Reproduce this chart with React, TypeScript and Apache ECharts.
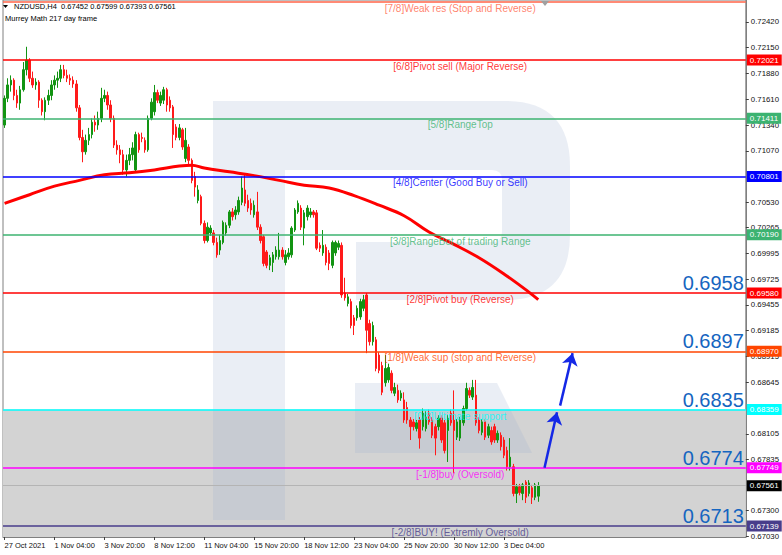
import React, { useEffect, useRef } from 'react';
import * as echarts from 'echarts';

// ---- price scale (NZDUSD H4) ----
const Y_MIN = 0.67024;
const Y_MAX = 0.7265;
const TOTAL_SLOTS = 238; // bars + empty shift area on the right
const BARS_PER_TICK = 16;

const xTickLabels = [
  '27 Oct 2021', '1 Nov 04:00', '3 Nov 20:00', '8 Nov 12:00', '11 Nov 04:00', '15 Nov 20:00',
  '18 Nov 12:00', '23 Nov 04:00', '25 Nov 20:00', '30 Nov 12:00', '3 Dec 04:00',
];

const yTickValues = [
  0.7242, 0.7215, 0.7188, 0.7161, 0.7134, 0.7107, 0.7053, 0.70265, 0.69995, 0.69725,
  0.69455, 0.69185, 0.68915, 0.68645, 0.68105, 0.67835, 0.673, 0.6703,
];

// [open, close, low, high]
const ohlc = [
  [0.7134, 0.7162, 0.7131, 0.7165], [0.7162, 0.7176, 0.7158, 0.7183], [0.7176, 0.7181, 0.7169, 0.7186],
  [0.7181, 0.7165, 0.716, 0.7183], [0.7165, 0.7157, 0.7152, 0.7171], [0.7157, 0.7171, 0.715, 0.7175],
  [0.7171, 0.7192, 0.7169, 0.72], [0.7192, 0.7202, 0.7186, 0.7216], [0.7202, 0.7183, 0.7179, 0.7204],
  [0.7183, 0.7176, 0.7173, 0.719], [0.7176, 0.7179, 0.7171, 0.7183], [0.7179, 0.716, 0.7152, 0.7181],
  [0.716, 0.7148, 0.7144, 0.7162], [0.7148, 0.716, 0.7139, 0.7163], [0.716, 0.7165, 0.7155, 0.7171],
  [0.7165, 0.7176, 0.716, 0.7181], [0.7176, 0.7181, 0.7171, 0.7186], [0.7181, 0.7183, 0.7173, 0.719],
  [0.7183, 0.7192, 0.7179, 0.7197], [0.7192, 0.7186, 0.7183, 0.7197], [0.7186, 0.7183, 0.7179, 0.7192],
  [0.7183, 0.7181, 0.7176, 0.7187], [0.7181, 0.7177, 0.7173, 0.7185], [0.7177, 0.7152, 0.7148, 0.7181],
  [0.7152, 0.7121, 0.7118, 0.7155], [0.7121, 0.7106, 0.7095, 0.7129], [0.7106, 0.7118, 0.7103, 0.7124],
  [0.7118, 0.7124, 0.7113, 0.7131], [0.7124, 0.7137, 0.712, 0.7141], [0.7137, 0.7134, 0.7127, 0.7144],
  [0.7134, 0.7141, 0.7129, 0.7148], [0.7141, 0.7162, 0.7137, 0.7173], [0.7162, 0.7165, 0.7158, 0.7171],
  [0.7165, 0.7155, 0.715, 0.7169], [0.7155, 0.7141, 0.7137, 0.716], [0.7141, 0.7113, 0.711, 0.7144],
  [0.7113, 0.7108, 0.7103, 0.7118], [0.7108, 0.7103, 0.7094, 0.7113], [0.7103, 0.7087, 0.7082, 0.7108],
  [0.7087, 0.7097, 0.708, 0.7103], [0.7097, 0.7103, 0.7092, 0.711], [0.7103, 0.711, 0.7097, 0.7116],
  [0.7087, 0.7124, 0.7084, 0.7127], [0.7124, 0.7108, 0.7105, 0.7126], [0.7121, 0.712, 0.7116, 0.7126],
  [0.7118, 0.7108, 0.7105, 0.7121], [0.7108, 0.7141, 0.7106, 0.7144], [0.7141, 0.7158, 0.7139, 0.7162],
  [0.7148, 0.7168, 0.7144, 0.7176], [0.7168, 0.716, 0.7157, 0.7171], [0.7157, 0.7165, 0.7154, 0.7169],
  [0.716, 0.7171, 0.7156, 0.7174], [0.7171, 0.7155, 0.7148, 0.7173], [0.716, 0.7152, 0.7148, 0.7164],
  [0.7153, 0.7124, 0.711, 0.7155], [0.7132, 0.7121, 0.7118, 0.7135], [0.7121, 0.7131, 0.7118, 0.7135],
  [0.7129, 0.7111, 0.7108, 0.7131], [0.7099, 0.7118, 0.7095, 0.7131], [0.7111, 0.7097, 0.7092, 0.7114],
  [0.7097, 0.7076, 0.7073, 0.7099], [0.708, 0.7069, 0.7059, 0.7085], [0.7055, 0.7066, 0.7052, 0.7071],
  [0.7059, 0.7031, 0.7029, 0.7061], [0.7031, 0.7013, 0.701, 0.7034], [0.7013, 0.7027, 0.7011, 0.7032],
  [0.7021, 0.7026, 0.7018, 0.7029], [0.7021, 0.7011, 0.7008, 0.7024], [0.7011, 0.6998, 0.6995, 0.7016],
  [0.7003, 0.7013, 0.6998, 0.7019], [0.7011, 0.7032, 0.7009, 0.7034], [0.7021, 0.7029, 0.7018, 0.7032],
  [0.7029, 0.7043, 0.7026, 0.7045], [0.7043, 0.7038, 0.7034, 0.7047], [0.704, 0.7045, 0.7035, 0.7049],
  [0.7043, 0.7055, 0.704, 0.7059], [0.7053, 0.7068, 0.705, 0.708], [0.7066, 0.7052, 0.7049, 0.7082],
  [0.7055, 0.7047, 0.7043, 0.7061], [0.7052, 0.7045, 0.704, 0.7057], [0.704, 0.705, 0.7037, 0.7055],
  [0.7043, 0.7027, 0.7024, 0.7064], [0.7027, 0.7013, 0.701, 0.703], [0.7017, 0.6989, 0.6986, 0.7019],
  [0.7001, 0.6987, 0.6984, 0.7003], [0.6987, 0.6995, 0.6982, 0.6998], [0.699, 0.6998, 0.698, 0.7001],
  [0.6996, 0.7003, 0.6993, 0.7007], [0.6996, 0.7003, 0.6993, 0.7021], [0.7003, 0.6996, 0.6993, 0.7006],
  [0.699, 0.6998, 0.6987, 0.7003], [0.6996, 0.7, 0.6993, 0.7005], [0.6998, 0.7026, 0.6995, 0.7028],
  [0.7024, 0.7045, 0.7022, 0.7047], [0.7043, 0.7052, 0.7041, 0.7055], [0.7047, 0.7027, 0.7024, 0.705],
  [0.7026, 0.7042, 0.7008, 0.7045], [0.7038, 0.7047, 0.7034, 0.705], [0.704, 0.7043, 0.7037, 0.7047],
  [0.7043, 0.704, 0.7037, 0.7045], [0.7042, 0.7005, 0.7003, 0.7045], [0.7008, 0.7005, 0.7001, 0.7011],
  [0.7, 0.7008, 0.6997, 0.7024], [0.7006, 0.699, 0.6987, 0.7009], [0.7, 0.6989, 0.6982, 0.7003],
  [0.6987, 0.7011, 0.6984, 0.7013], [0.7, 0.7011, 0.6997, 0.7013], [0.7006, 0.701, 0.7003, 0.7013],
  [0.7008, 0.6956, 0.6953, 0.7011], [0.6958, 0.6953, 0.695, 0.6974], [0.6947, 0.6954, 0.6944, 0.6957],
  [0.6949, 0.6924, 0.6921, 0.6952], [0.6932, 0.6924, 0.6914, 0.6935], [0.6932, 0.6942, 0.6929, 0.6945],
  [0.6933, 0.6949, 0.693, 0.6952], [0.6942, 0.6951, 0.6939, 0.6956], [0.6956, 0.6919, 0.6895, 0.6958],
  [0.6926, 0.6907, 0.6903, 0.693], [0.6907, 0.6924, 0.6903, 0.6928], [0.6909, 0.6879, 0.6876, 0.6912],
  [0.6893, 0.6877, 0.6874, 0.6896], [0.6882, 0.6854, 0.6851, 0.6886], [0.6864, 0.6879, 0.686, 0.6893],
  [0.6867, 0.688, 0.6864, 0.6884], [0.6874, 0.6856, 0.6853, 0.6877], [0.6853, 0.6859, 0.685, 0.6864],
  [0.6856, 0.6846, 0.6843, 0.6862], [0.6848, 0.6853, 0.6845, 0.6856], [0.6846, 0.6825, 0.6822, 0.6854],
  [0.6838, 0.6825, 0.6821, 0.6844], [0.6825, 0.6818, 0.6804, 0.6828], [0.6823, 0.6818, 0.6814, 0.6826],
  [0.6816, 0.6822, 0.6813, 0.6825], [0.6825, 0.6806, 0.6795, 0.6828], [0.6818, 0.6832, 0.6814, 0.6837],
  [0.6816, 0.6828, 0.6813, 0.6834], [0.6832, 0.6823, 0.682, 0.6836], [0.6825, 0.6809, 0.6806, 0.6828],
  [0.6818, 0.6806, 0.6788, 0.6821], [0.6818, 0.6827, 0.6814, 0.683], [0.6827, 0.6804, 0.6801, 0.683],
  [0.6822, 0.6793, 0.679, 0.6825], [0.6814, 0.6827, 0.6781, 0.683], [0.6832, 0.6822, 0.6819, 0.6836],
  [0.6825, 0.6814, 0.6769, 0.6856], [0.6807, 0.6823, 0.6804, 0.6826], [0.6806, 0.6825, 0.6803, 0.6828],
  [0.6822, 0.6837, 0.6819, 0.684], [0.6837, 0.6858, 0.6835, 0.6864], [0.6856, 0.6851, 0.6848, 0.6859],
  [0.6849, 0.6859, 0.6846, 0.6867], [0.6851, 0.6822, 0.6819, 0.6867], [0.6825, 0.6814, 0.6811, 0.6828],
  [0.6812, 0.6823, 0.6809, 0.6826], [0.6823, 0.6807, 0.6804, 0.6826], [0.6809, 0.6818, 0.6806, 0.6821],
  [0.6814, 0.6802, 0.6799, 0.6818], [0.6818, 0.6804, 0.6801, 0.6821], [0.6804, 0.6811, 0.6801, 0.6814],
  [0.6809, 0.6797, 0.6793, 0.6812], [0.6804, 0.6788, 0.6785, 0.6807], [0.6793, 0.6776, 0.6772, 0.6797],
  [0.6776, 0.6786, 0.6772, 0.6806], [0.6776, 0.6748, 0.6745, 0.6779], [0.6748, 0.6755, 0.6738, 0.6758],
  [0.6755, 0.6749, 0.6746, 0.6758], [0.6748, 0.6757, 0.6741, 0.6759], [0.676, 0.6744, 0.6738, 0.6762],
  [0.6748, 0.6759, 0.6745, 0.6762], [0.6754, 0.6744, 0.6737, 0.6757], [0.6744, 0.6757, 0.6741, 0.6759],
  [0.67452, 0.67561, 0.67393, 0.67599],
];

// moving average, sampled as [bar index, value]
const maPoints = [
  [0, 0.7052], [8, 0.7061], [16, 0.707], [24, 0.7076], [32, 0.7082], [40, 0.7084], [48, 0.7087],
  [56, 0.7091], [60, 0.7092], [64, 0.7089], [72, 0.7085], [80, 0.7081], [88, 0.7076], [96, 0.7071],
  [104, 0.7068], [112, 0.706], [120, 0.705], [128, 0.7039], [136, 0.7022], [144, 0.7009],
  [152, 0.6995], [160, 0.6978], [168, 0.6959], [171, 0.6951],
];

// Murrey Math levels
const levelNames = [
  '[7/8]Weak res (Stop and Reverse)', '[6/8]Pivot sell (Major Reverse)', '[5/8]RangeTop',
  '[4/8]Center (Good Buy or Sell)', '[3/8]RangeBot of trading Range', '[2/8]Pivot buy (Reverse)',
  '[1/8]Weak sup (stop and Reverse)', '[0/8]Ultimate support', '[-1/8]buy (Oversold)',
  '[-2/8]BUY! (Extremly Oversold)',
];
const levelValues = [0.72631, 0.72021, 0.71411, 0.70801, 0.7019, 0.6958, 0.6897, 0.68359, 0.67749, 0.67139];
const levelColors = ['#ff6347', '#ff0000', '#3cb371', '#0000ff', '#3cb371', '#ff0000', '#ff4500', '#00ffff', '#ff00ff', '#483d8b'];
const LEVEL_LABEL_BAR = 146;

const targetTexts = ['0.6958', '0.6897', '0.6835', '0.6774', '0.6713'];
const targetValues = [0.6958, 0.6897, 0.68359, 0.67749, 0.67139];

const lastPrice = 0.67561;
const headerQuote = 'NZDUSD,H4  0.67452 0.67599 0.67393 0.67561';

// forecast arrows: [bar index, price] start -> end
const arrowPaths = [
  [[173, 0.67749], [177, 0.6833]],
  [[178, 0.684], [182, 0.6895]],
];

const FONT = 'Liberation Sans, Arial, sans-serif';
const UP = '#129412';
const DOWN = '#ff1a1a';

echarts.graphic.registerShape(
  'rLogo',
  echarts.graphic.extendPath(
    'M213 101 L505 101 Q570 101 570 166 L570 235 Q570 300 505 300 L356 300 L356 242 L492 242 Q502 242 502 232 L502 180 Q502 170 492 170 L285 170 L285 520 L213 520 Z M355 383 L497 383 L532 453 L355 453 Z',
    {}
  )
);

const categories = Array.from({ length: TOTAL_SLOTS }, (_, i) => String(i));
const isTick = (i: number) => i % BARS_PER_TICK === 0 && i / BARS_PER_TICK < xTickLabels.length;

function buildOption() {
  return {
    animation: false,
    backgroundColor: '#ffffff',
    textStyle: { fontFamily: FONT },
    grid: { left: 3, right: 36, top: 0, bottom: 18, show: true, borderColor: '#808080', borderWidth: 1, backgroundColor: 'transparent' },
    graphic: [
      { type: 'rLogo', x: 0, y: 0, z: 1, silent: true, style: { fill: 'rgba(160,178,208,0.22)' } },
      { type: 'polygon', z: 10, shape: { points: [[3, 5], [8, 5], [5.5, 8]] }, style: { fill: '#000' } },
      { type: 'text', z: 10, x: 14, y: 2, style: { text: headerQuote, font: `7.5px ${FONT}`, fill: '#000' } },
      { type: 'text', z: 10, x: 5, y: 14, style: { text: 'Murrey Math 217 day frame', font: `7.5px ${FONT}`, fill: '#000' } },
      { type: 'polygon', z: 10, shape: { points: [[541, 1], [549, 1], [545, 6]] }, style: { fill: '#a0a0a0' } },
    ],
    xAxis: {
      type: 'category',
      data: categories,
      boundaryGap: true,
      axisLine: { show: true, lineStyle: { color: '#808080' } },
      axisTick: { show: true, alignWithLabel: true, length: 3, interval: (i: number) => isTick(i), lineStyle: { color: '#404040' } },
      axisLabel: {
        interval: (i: number) => isTick(i),
        formatter: (_v: string, i: number) => xTickLabels[i / BARS_PER_TICK] ?? '',
        align: 'left', margin: 4, fontSize: 7.5, color: '#111', fontFamily: FONT,
      },
      splitLine: { show: false },
    },
    yAxis: {
      type: 'value',
      position: 'right',
      min: Y_MIN,
      max: Y_MAX,
      axisLine: { show: true, lineStyle: { color: '#808080' } },
      axisTick: { show: true, length: 3, customValues: yTickValues, lineStyle: { color: '#404040' } },
      axisLabel: { customValues: yTickValues, formatter: (v: number) => v.toFixed(5), margin: 5, fontSize: 7.8, color: '#111', fontFamily: FONT },
      splitLine: { show: false },
    },
    series: [
      {
        name: 'zone',
        type: 'line',
        data: [],
        silent: true,
        markArea: {
          silent: true,
          z: 0,
          itemStyle: { color: '#d3d3d3' },
          data: [[{ yAxis: levelValues[7] }, { yAxis: Y_MIN }]],
        },
      },
      {
        name: 'NZDUSD',
        type: 'candlestick',
        data: ohlc,
        barWidth: 2,
        z: 2,
        itemStyle: { color: UP, color0: DOWN, borderColor: UP, borderColor0: DOWN, borderWidth: 1 },
      },
      {
        name: 'MA',
        type: 'line',
        data: maPoints,
        smooth: 0.4,
        symbol: 'none',
        z: 3,
        lineStyle: { color: '#ff0000', width: 3 },
      },
      {
        name: 'levels',
        type: 'line',
        data: [],
        markLine: {
          silent: true,
          precision: 5,
          symbol: ['none', 'none'],
          data: [
            ...levelValues.map((v, i) => ({
              yAxis: v,
              lineStyle: { color: levelColors[i], width: 1.5, type: 'solid' },
              label: {
                show: i !== 0,
                position: 'end',
                distance: 1,
                formatter: v.toFixed(5),
                backgroundColor: levelColors[i],
                color: '#ffffff',
                padding: [2, 3, 1, 3],
                fontSize: 8,
                fontFamily: FONT,
              },
            })),
            {
              yAxis: lastPrice,
              lineStyle: { color: '#b4b4b4', width: 1, type: 'solid' },
              label: {
                show: true, position: 'end', distance: 1, formatter: lastPrice.toFixed(5),
                backgroundColor: '#000000', color: '#ffffff', padding: [2, 3, 1, 3], fontSize: 8, fontFamily: FONT,
              },
            },
          ],
        },
      },
      {
        name: 'targets',
        type: 'line',
        data: [],
        markLine: {
          silent: true,
          precision: 5,
          symbol: ['none', 'none'],
          data: targetValues.map((v, i) => ({
            yAxis: v,
            lineStyle: { color: 'rgba(0,0,0,0)', width: 0 },
            label: {
              show: true, position: 'insideEndTop', distance: [2, 0], formatter: targetTexts[i],
              color: '#1565c0', fontSize: 20, fontFamily: FONT,
            },
          })),
        },
      },
      {
        name: 'levelNames',
        type: 'scatter',
        z: 6,
        symbolSize: 1,
        itemStyle: { color: 'rgba(0,0,0,0)' },
        data: levelValues.map((v, i) => ({
          value: [LEVEL_LABEL_BAR, v],
          label: { color: levelColors[i] },
        })),
        label: {
          show: true, position: 'bottom', distance: 1, fontSize: 10, fontFamily: FONT,
          formatter: (p: any) => levelNames[p.dataIndex],
        },
      },
      {
        name: 'forecast',
        type: 'line',
        data: [],
        markLine: {
          silent: true,
          precision: 5,
          symbol: ['none', 'arrow'],
          symbolSize: 12,
          lineStyle: { color: '#1428e6', width: 2.5, type: 'solid' },
          itemStyle: { color: '#1428e6' },
          label: { show: false },
          data: arrowPaths.map(([a, b]) => [{ coord: a }, { coord: b }]),
        },
      },
    ],
  };
}

export default function App() {
  const ref = useRef<HTMLDivElement>(null);
  useEffect(() => {
    if (!ref.current) return;
    const chart = echarts.init(ref.current, null, { renderer: 'svg' });
    chart.setOption(buildOption() as any);
    return () => chart.dispose();
  }, []);
  return <div ref={ref} style={{ position: 'fixed', left: 0, top: 0, width: 782, height: 555 }} />;
}
